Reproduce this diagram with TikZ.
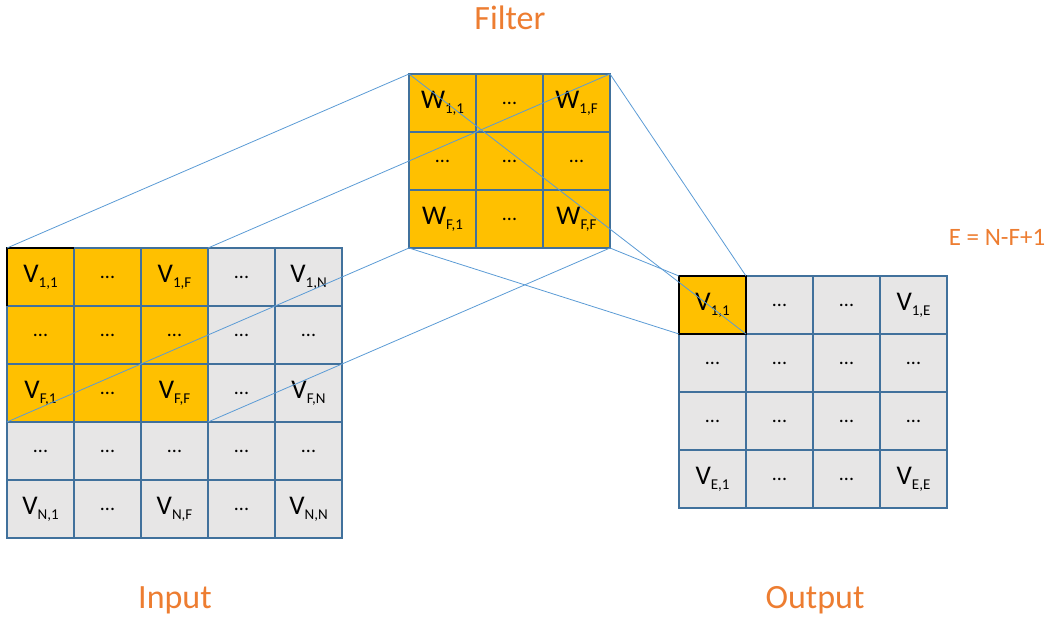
\documentclass[tikz,border=0pt]{standalone}
\usepackage{fontspec}
\setmainfont{Carlito}
\usetikzlibrary{positioning}

\definecolor{cellorange}{HTML}{FFC000}
\definecolor{cellgrey}{HTML}{E7E6E6}
\definecolor{gridblue}{HTML}{41719C}
\definecolor{projblue}{HTML}{5B9BD5}
\definecolor{titleorange}{HTML}{ED7D31}

\newcommand{\elem}[2]{#1\raisebox{-5pt}{\fontsize{15}{15}\selectfont #2}}
\newcommand{\celldots}{{\fontsize{20}{20}\selectfont ...}}

\begin{document}
\begin{tikzpicture}[
    x=1pt, y=-1pt,
    cell/.style={draw=gridblue, line width=1.3pt, inner sep=0pt, outer sep=0pt,
        minimum width=67pt, minimum height=58pt, font=\fontsize{27}{30}\selectfont},
    proj/.style={draw=projblue, line width=0.8pt},
    title/.style={text=titleorange, font=\fontsize{34}{38}\selectfont},
]
\useasboundingbox (0,0) rectangle (1052,620);

% === INPUT ===
\foreach \row [count=\r] in {
    {\elem{V}{1,1},\celldots,\elem{V}{1,F},\celldots,\elem{V}{1,N}},
    {\celldots,\celldots,\celldots,\celldots,\celldots},
    {\elem{V}{F,1},\celldots,\elem{V}{F,F},\celldots,\elem{V}{F,N}},
    {\celldots,\celldots,\celldots,\celldots,\celldots},
    {\elem{V}{N,1},\celldots,\elem{V}{N,F},\celldots,\elem{V}{N,N}}}
{
    \foreach \t [count=\c] in \row {
        \pgfmathtruncatemacro\hot{and(\r<4,\c<4)}
        \ifnum\hot=1 \def\cellcol{cellorange}\else\def\cellcol{cellgrey}\fi
        \node[cell, fill=\cellcol] (in_\r_\c) at ({40.5+67*(\c-1)},{277+58*(\r-1)}) {\t};
    }
}
\draw[black, line width=1.3pt] (in_1_1.south west) |- (in_1_1.north east);

% === FILTER ===
\foreach \row [count=\r] in {
    {\elem{W}{1,1},\celldots,\elem{W}{1,F}},
    {\celldots,\celldots,\celldots},
    {\elem{W}{F,1},\celldots,\elem{W}{F,F}}}
{
    \foreach \t [count=\c] in \row {
        \node[cell, fill=cellorange] (f_\r_\c) at ({442.5+67*(\c-1)},{103+58*(\r-1)}) {\t};
    }
}

% === OUTPUT ===
\foreach \row [count=\r] in {
    {\elem{V}{1,1},\celldots,\celldots,\elem{V}{1,E}},
    {\celldots,\celldots,\celldots,\celldots},
    {\celldots,\celldots,\celldots,\celldots},
    {\elem{V}{E,1},\celldots,\celldots,\elem{V}{E,E}}}
{
    \foreach \t [count=\c] in \row {
        \pgfmathtruncatemacro\hot{and(\r<2,\c<2)}
        \ifnum\hot=1 \def\cellcol{cellorange}\else\def\cellcol{cellgrey}\fi
        \node[cell, fill=\cellcol] (out_\r_\c) at ({712.5+67*(\c-1)},{305+58*(\r-1)}) {\t};
    }
}
\draw[black, line width=1.3pt] (out_1_1.north west) rectangle (out_1_1.south east);

% Projection lines filter -> input
\draw[proj] (f_1_1.north west) -- (in_1_1.north west);
\draw[proj] (f_1_3.north east) -- (in_1_3.north east);
\draw[proj] (f_3_1.south west) -- (in_3_1.south west);
\draw[proj] (f_3_3.south east) -- (in_3_3.south east);

% Projection lines filter -> output
\draw[proj] (f_1_1.north west) -- (out_1_1.south east);
\draw[proj] (f_1_3.north east) -- (out_1_1.north east);
\draw[proj] (f_3_3.south east) -- (out_1_1.north west);
\draw[proj] (f_3_1.south west) -- (out_1_1.south west);

% === LABELS ===
\node[title] (filterlabel) at (510,18) {Filter};
\node[title] (inputlabel) at (175,600) {Input};
\node[title] (outputlabel) at (815,600) {Output};
\node[text=titleorange, font=\fontsize{25}{27}\selectfont] (sizelabel) at (997,237) {E = N-F+1};

\end{tikzpicture}
\end{document}
